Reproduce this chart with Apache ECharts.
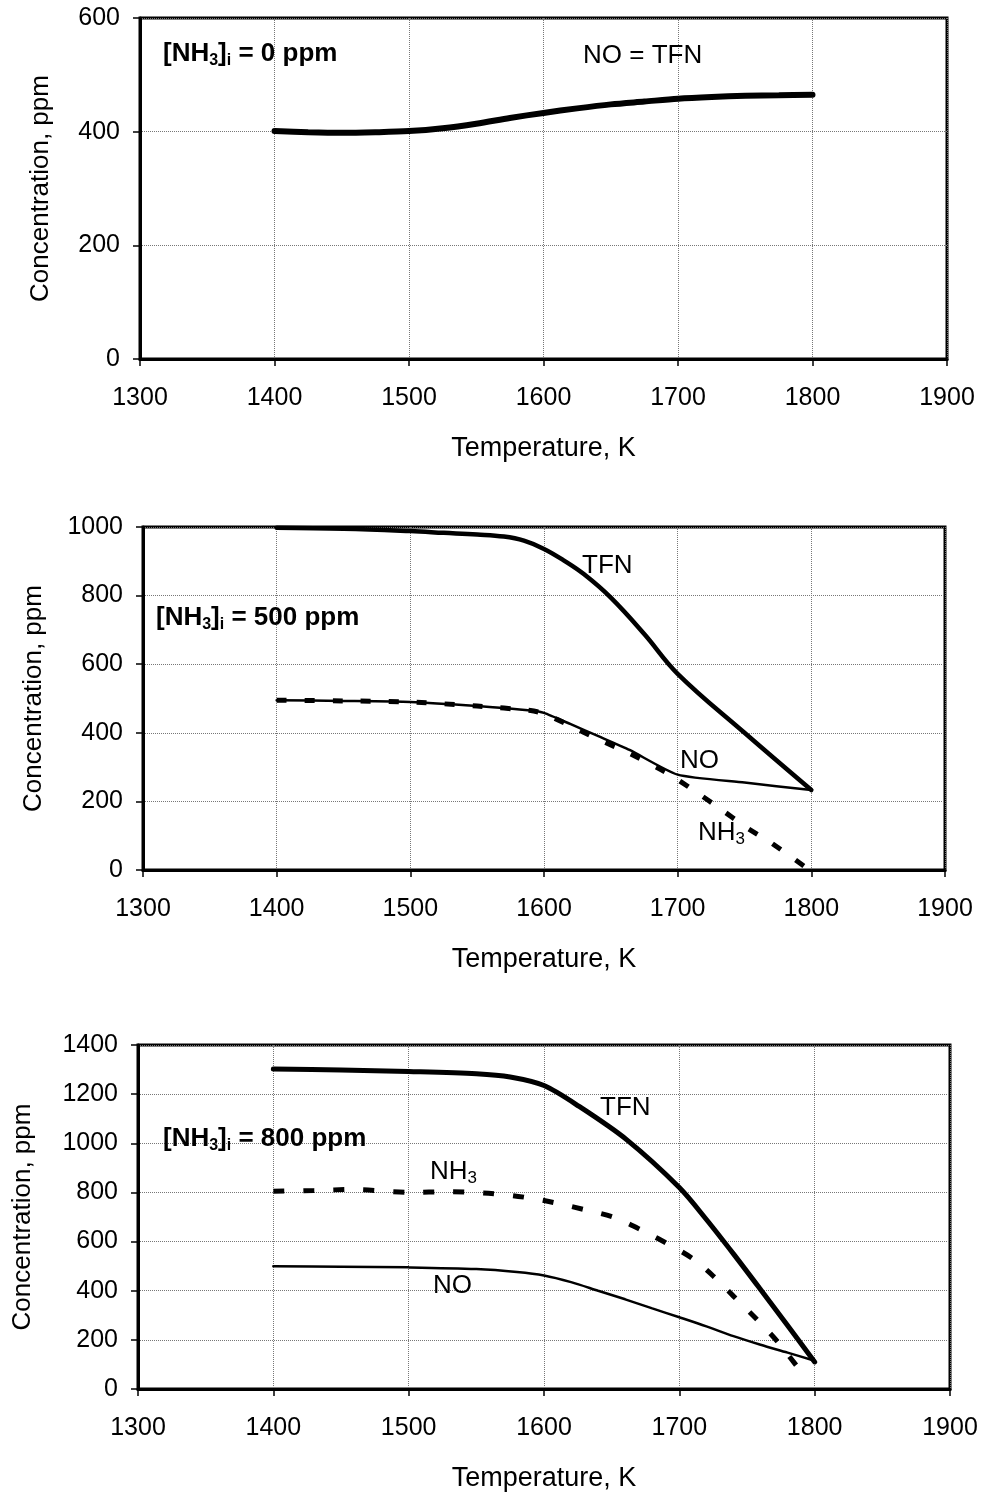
<!DOCTYPE html>
<html>
<head>
<meta charset="utf-8">
<script src="https://cdn.jsdelivr.net/npm/echarts@6/dist/echarts.min.js"></script>
<style>
html,body{margin:0;padding:0;background:#fff;}
#c{width:982px;height:1493px;}
</style>
</head>
<body>
<div id="c"></div>
<script>
// ---- Data ----
var xTicks = [1300, 1400, 1500, 1600, 1700, 1800, 1900];
var yMax = [600, 1000, 1400];

// Panel 1: [NH3]i = 0 ppm (NO = TFN)
var t1 = [1400, 1425, 1450, 1475, 1500, 1525, 1550, 1575, 1600, 1625, 1650, 1675, 1700, 1725, 1750, 1775, 1800];
var no1 = [401, 399, 398, 399, 401, 406, 414, 424, 433, 441, 448, 453, 458, 461, 463, 464, 465];

// Panel 2: [NH3]i = 500 ppm
var t2tfn = [1400, 1450, 1500, 1525, 1550, 1570, 1585, 1600, 1615, 1630, 1650, 1675, 1700, 1750, 1800];
var tfn2 = [998, 995, 988, 983, 978, 972, 960, 936, 902, 862, 794, 688, 572, 400, 233];
var t2no = [1400, 1450, 1500, 1550, 1590, 1600, 1620, 1642, 1664, 1700, 1750, 1800];
var no2 = [495, 493, 490, 478, 465, 458, 425, 388, 350, 278, 255, 233];
var t2nh3 = [1400, 1450, 1500, 1550, 1590, 1600, 1620, 1640, 1664, 1692, 1714, 1731, 1751, 1770, 1795];
var nh3_2 = [495, 493, 490, 478, 465, 456, 420, 382, 340, 283, 227, 181, 125, 79, 10];

// Panel 3: [NH3]i = 800 ppm
var t3tfn = [1400, 1450, 1500, 1550, 1575, 1600, 1626, 1661, 1700, 1720, 1740, 1760, 1780, 1800];
var tfn3 = [1302, 1298, 1292, 1283, 1270, 1235, 1150, 1015, 820, 690, 550, 405, 258, 110];
var t3nh3 = [1400, 1430, 1460, 1500, 1530, 1555, 1577, 1600, 1630, 1652, 1674, 1695, 1710, 1725, 1740, 1757, 1773, 1790];
var nh3_3 = [805, 808, 812, 800, 803, 798, 787, 767, 730, 698, 641, 580, 530, 460, 378, 285, 190, 70];
var t3no = [1400, 1450, 1500, 1550, 1580, 1600, 1620, 1640, 1660, 1680, 1700, 1720, 1740, 1760, 1780, 1800];
var no3 = [500, 498, 495, 488, 476, 462, 435, 400, 365, 328, 292, 255, 215, 180, 148, 115];

function pairs(xs, ys) { return xs.map(function (x, i) { return [x, ys[i]]; }); }

var FONT = '"Liberation Sans", Arial, sans-serif';
var grids = [
  {left: 140, right: 35, top: 18, height: 341},
  {left: 143, right: 37, top: 527, height: 343},
  {left: 138, right: 32, top: 1045, height: 345}
];
var yNameGap = [86, 96, 102];

var option = {
  backgroundColor: '#fff',
  animation: false,
  textStyle: {fontFamily: FONT},
  grid: grids.map(function (g) {
    return {left: g.left, right: g.right, top: g.top, height: g.height, show: true,
      borderColor: '#000', borderWidth: 3, backgroundColor: 'transparent', containLabel: false};
  }),
  xAxis: grids.map(function (g, i) {
    return {
      gridIndex: i, type: 'value', min: xTicks[0], max: xTicks[xTicks.length - 1], interval: 100,
      axisLine: {show: true, lineStyle: {color: '#000', width: 3}},
      axisTick: {show: true, length: 7, lineStyle: {color: '#000', width: 1.5}},
      axisLabel: {fontSize: 25, color: '#000', margin: 27, fontFamily: FONT,
        formatter: function (v) { return String(v); }},
      splitLine: {show: true, lineStyle: {type: 'dotted', color: '#777', width: 1}},
      name: 'Temperature, K', nameLocation: 'middle', nameGap: 76,
      nameTextStyle: {fontSize: 27, color: '#000', fontFamily: FONT}
    };
  }),
  yAxis: grids.map(function (g, i) {
    return {
      gridIndex: i, type: 'value', min: 0, max: yMax[i], interval: 200,
      axisLine: {show: true, lineStyle: {color: '#000', width: 3}},
      axisTick: {show: true, length: 7, lineStyle: {color: '#000', width: 1.5}},
      axisLabel: {fontSize: 25, color: '#000', margin: 20, fontFamily: FONT,
        formatter: function (v) { return String(v); }},
      splitLine: {show: true, lineStyle: {type: 'dotted', color: '#777', width: 1}},
      name: 'Concentration, ppm', nameLocation: 'middle', nameGap: yNameGap[i],
      nameTextStyle: {fontSize: 26, color: '#000', fontFamily: FONT}
    };
  }),
  series: [
    {type: 'line', xAxisIndex: 0, yAxisIndex: 0, data: pairs(t1, no1), smooth: 0.3, showSymbol: false,
      lineStyle: {color: '#000', width: 6, cap: 'round'}},
    {type: 'line', xAxisIndex: 1, yAxisIndex: 1, data: pairs(t2tfn, tfn2), smooth: 0.4, showSymbol: false,
      lineStyle: {color: '#000', width: 4.5, cap: 'round'}},
    {type: 'line', xAxisIndex: 1, yAxisIndex: 1, data: pairs(t2no, no2), smooth: 0.2, showSymbol: false,
      lineStyle: {color: '#000', width: 2.5, cap: 'round'}},
    {type: 'line', xAxisIndex: 1, yAxisIndex: 1, data: pairs(t2nh3, nh3_2), smooth: 0.2, showSymbol: false,
      lineStyle: {color: '#000', width: 5, type: [10, 18]}},
    {type: 'line', xAxisIndex: 2, yAxisIndex: 2, data: pairs(t3tfn, tfn3), smooth: 0.3, showSymbol: false,
      lineStyle: {color: '#000', width: 5, cap: 'round'}},
    {type: 'line', xAxisIndex: 2, yAxisIndex: 2, data: pairs(t3nh3, nh3_3), smooth: 0.3, showSymbol: false,
      lineStyle: {color: '#000', width: 5, type: [11, 19]}},
    {type: 'line', xAxisIndex: 2, yAxisIndex: 2, data: pairs(t3no, no3), smooth: 0.3, showSymbol: false,
      lineStyle: {color: '#000', width: 2.5, cap: 'round'}}
  ],
  graphic: []
};

var richBold = {
  b: {fontSize: 26, fontWeight: 'bold', fontFamily: FONT, color: '#000', lineHeight: 30},
  s: {fontSize: 16, fontWeight: 'bold', fontFamily: FONT, color: '#000', verticalAlign: 'bottom', lineHeight: 13}
};
var richNorm = {
  n: {fontSize: 26, fontFamily: FONT, color: '#000', lineHeight: 30},
  s: {fontSize: 17, fontFamily: FONT, color: '#000', verticalAlign: 'bottom', lineHeight: 13}
};
function lbl(x, y, text, rich) {
  return {type: 'text', left: x, top: y, z: 100,
    style: {text: text, rich: rich, fill: '#000', fontFamily: FONT}};
}
option.graphic = [
  lbl(163, 41, '{b|[NH}{s|3}{b|]}{s|i}{b| = 0 ppm}', richBold),
  lbl(583, 43, '{n|NO = TFN}', richNorm),
  lbl(582, 553, '{n|TFN}', richNorm),
  lbl(156, 605, '{b|[NH}{s|3}{b|]}{s|i}{b| = 500 ppm}', richBold),
  lbl(680, 748, '{n|NO}', richNorm),
  lbl(698, 820, '{n|NH}{s|3}', richNorm),
  lbl(600, 1095, '{n|TFN}', richNorm),
  lbl(163, 1126, '{b|[NH}{s|3}{b|]}{s|i}{b| = 800 ppm}', richBold),
  lbl(430, 1159, '{n|NH}{s|3}', richNorm),
  lbl(433, 1273, '{n|NO}', richNorm)
];

var chart = echarts.init(document.getElementById('c'), null, {renderer: 'canvas'});
chart.setOption(option);
</script>
</body>
</html>
